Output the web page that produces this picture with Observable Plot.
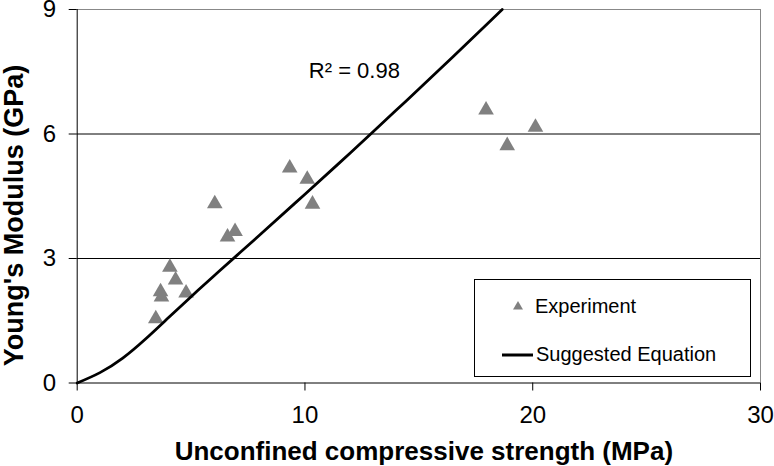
<!DOCTYPE html>
<html>
<head>
<meta charset="utf-8">
<script src="https://cdn.jsdelivr.net/npm/d3@7"></script>
<script src="https://cdn.jsdelivr.net/npm/@observablehq/plot@0.6"></script>
<style>
  html, body { margin: 0; padding: 0; background: #fff; }
  #wrap { position: relative; width: 774px; height: 466px; font-family: "Liberation Sans", Arial, sans-serif; }
  #legend { position: absolute; left: 474px; top: 279px; width: 277px; height: 98px; box-sizing: border-box;
            border: 1px solid #000; background: #fff; font-size: 20px; color: #000; }
  #legend .item { position: absolute; left: 27px; display: flex; align-items: center; height: 24px; }
  #legend svg { display: block; }
</style>
</head>
<body>
<div id="wrap"></div>
<script>
// Experimental points: unconfined compressive strength (MPa) vs Young's modulus (GPa)
const ucs     = [3.45, 3.66, 3.70, 4.07, 4.32, 4.78, 6.04, 6.60, 6.93, 9.33, 10.10, 10.33, 17.95, 18.88, 20.12];
const modulus = [1.55, 2.20, 2.07, 2.79, 2.48, 2.17, 4.32, 3.52, 3.65, 5.18, 4.91, 4.31, 6.58, 5.72, 6.16];

// Suggested equation curve
const eqX = [0, 1, 2, 3, 4, 5, 6, 7, 8, 10, 12, 14, 16, 18, 18.66];
const eqY = [0, 0.25, 0.60, 1.06, 1.57, 2.08, 2.58, 3.07, 3.56, 4.55, 5.55, 6.57, 7.60, 8.65, 9.0];

const xTicks = [0, 10, 20, 30];
const yTicks = [0, 3, 6, 9];
const gridValues = [3, 6];

const xTitle = "Unconfined compressive strength (MPa)";
const yTitle = "Young's Modulus (GPa)";
const r2Text = "R\u00B2 = 0.98";
const seriesNames = ["Experiment", "Suggested Equation"];

const points = ucs.map((x, i) => ({x, y: modulus[i]}));
const curve = eqX.map((x, i) => ({x, y: eqY[i]}));

const chart = Plot.plot({
  width: 774,
  height: 466,
  marginLeft: 76.7,
  marginTop: 9,
  marginRight: 14,
  marginBottom: 83.5,
  style: {fontFamily: "\"Liberation Sans\", Arial, sans-serif", fontSize: "24px", color: "#000", background: "#fff", overflow: "visible"},
  x: {domain: [0, 30]},
  y: {domain: [0, 9]},
  marks: [
    Plot.ruleY(gridValues, {stroke: "#000", strokeWidth: 1}),
    Plot.ruleY([9], {stroke: "#888", strokeWidth: 1}),
    Plot.ruleX([30], {stroke: "#888", strokeWidth: 1}),
    Plot.ruleY([0], {stroke: "#000", strokeWidth: 1}),
    Plot.ruleX([0], {stroke: "#000", strokeWidth: 1}),
    Plot.axisX({ticks: xTicks, tickSize: 8, tickPadding: 14.5, fontSize: 24, label: null, stroke: "#000"}),
    Plot.axisY({ticks: yTicks, tickSize: 8, tickPadding: 13, fontSize: 24, label: null, stroke: "#000"}),
    Plot.dot(points, {x: "x", y: "y", symbol: "triangle", r: 5.8, fill: "#808080", stroke: null}),
    Plot.line(curve, {x: "x", y: "y", stroke: "#000", strokeWidth: 2.8, curve: "natural"}),
    Plot.text([r2Text], {text: d => d, frameAnchor: "top-left", textAnchor: "start", lineAnchor: "middle",
                         dx: 231.6, dy: 61, fontSize: 22, fill: "#000"}),
    Plot.text([xTitle], {text: d => d, frameAnchor: "bottom", textAnchor: "middle", lineAnchor: "middle",
                         dx: 5, dy: 68.5, fontSize: 26, fontWeight: "bold", fill: "#000"}),
    Plot.text([yTitle], {text: d => d, frameAnchor: "left", textAnchor: "middle", lineAnchor: "middle", rotate: -90,
                         dx: -63.2, dy: 19.25, fontSize: 27, fontWeight: "bold", fill: "#000"})
  ]
});

const wrap = document.getElementById("wrap");
wrap.appendChild(chart);

// Legend
const legend = document.createElement("div");
legend.id = "legend";
legend.innerHTML = `
  <div class="item" style="top:14px; left:32px;">
    <svg width="22" height="20" style="margin-right:6px"><path d="M11,5 L16,13.5 L6,13.5 Z" fill="#808080"/></svg>
    <span>${seriesNames[0]}</span>
  </div>
  <div class="item" style="top:62px; left:27px;">
    <svg width="31" height="20" style="margin-right:3px"><line x1="0" y1="11" x2="31" y2="11" stroke="#000" stroke-width="3"/></svg>
    <span>${seriesNames[1]}</span>
  </div>`;
wrap.appendChild(legend);
</script>
</body>
</html>
